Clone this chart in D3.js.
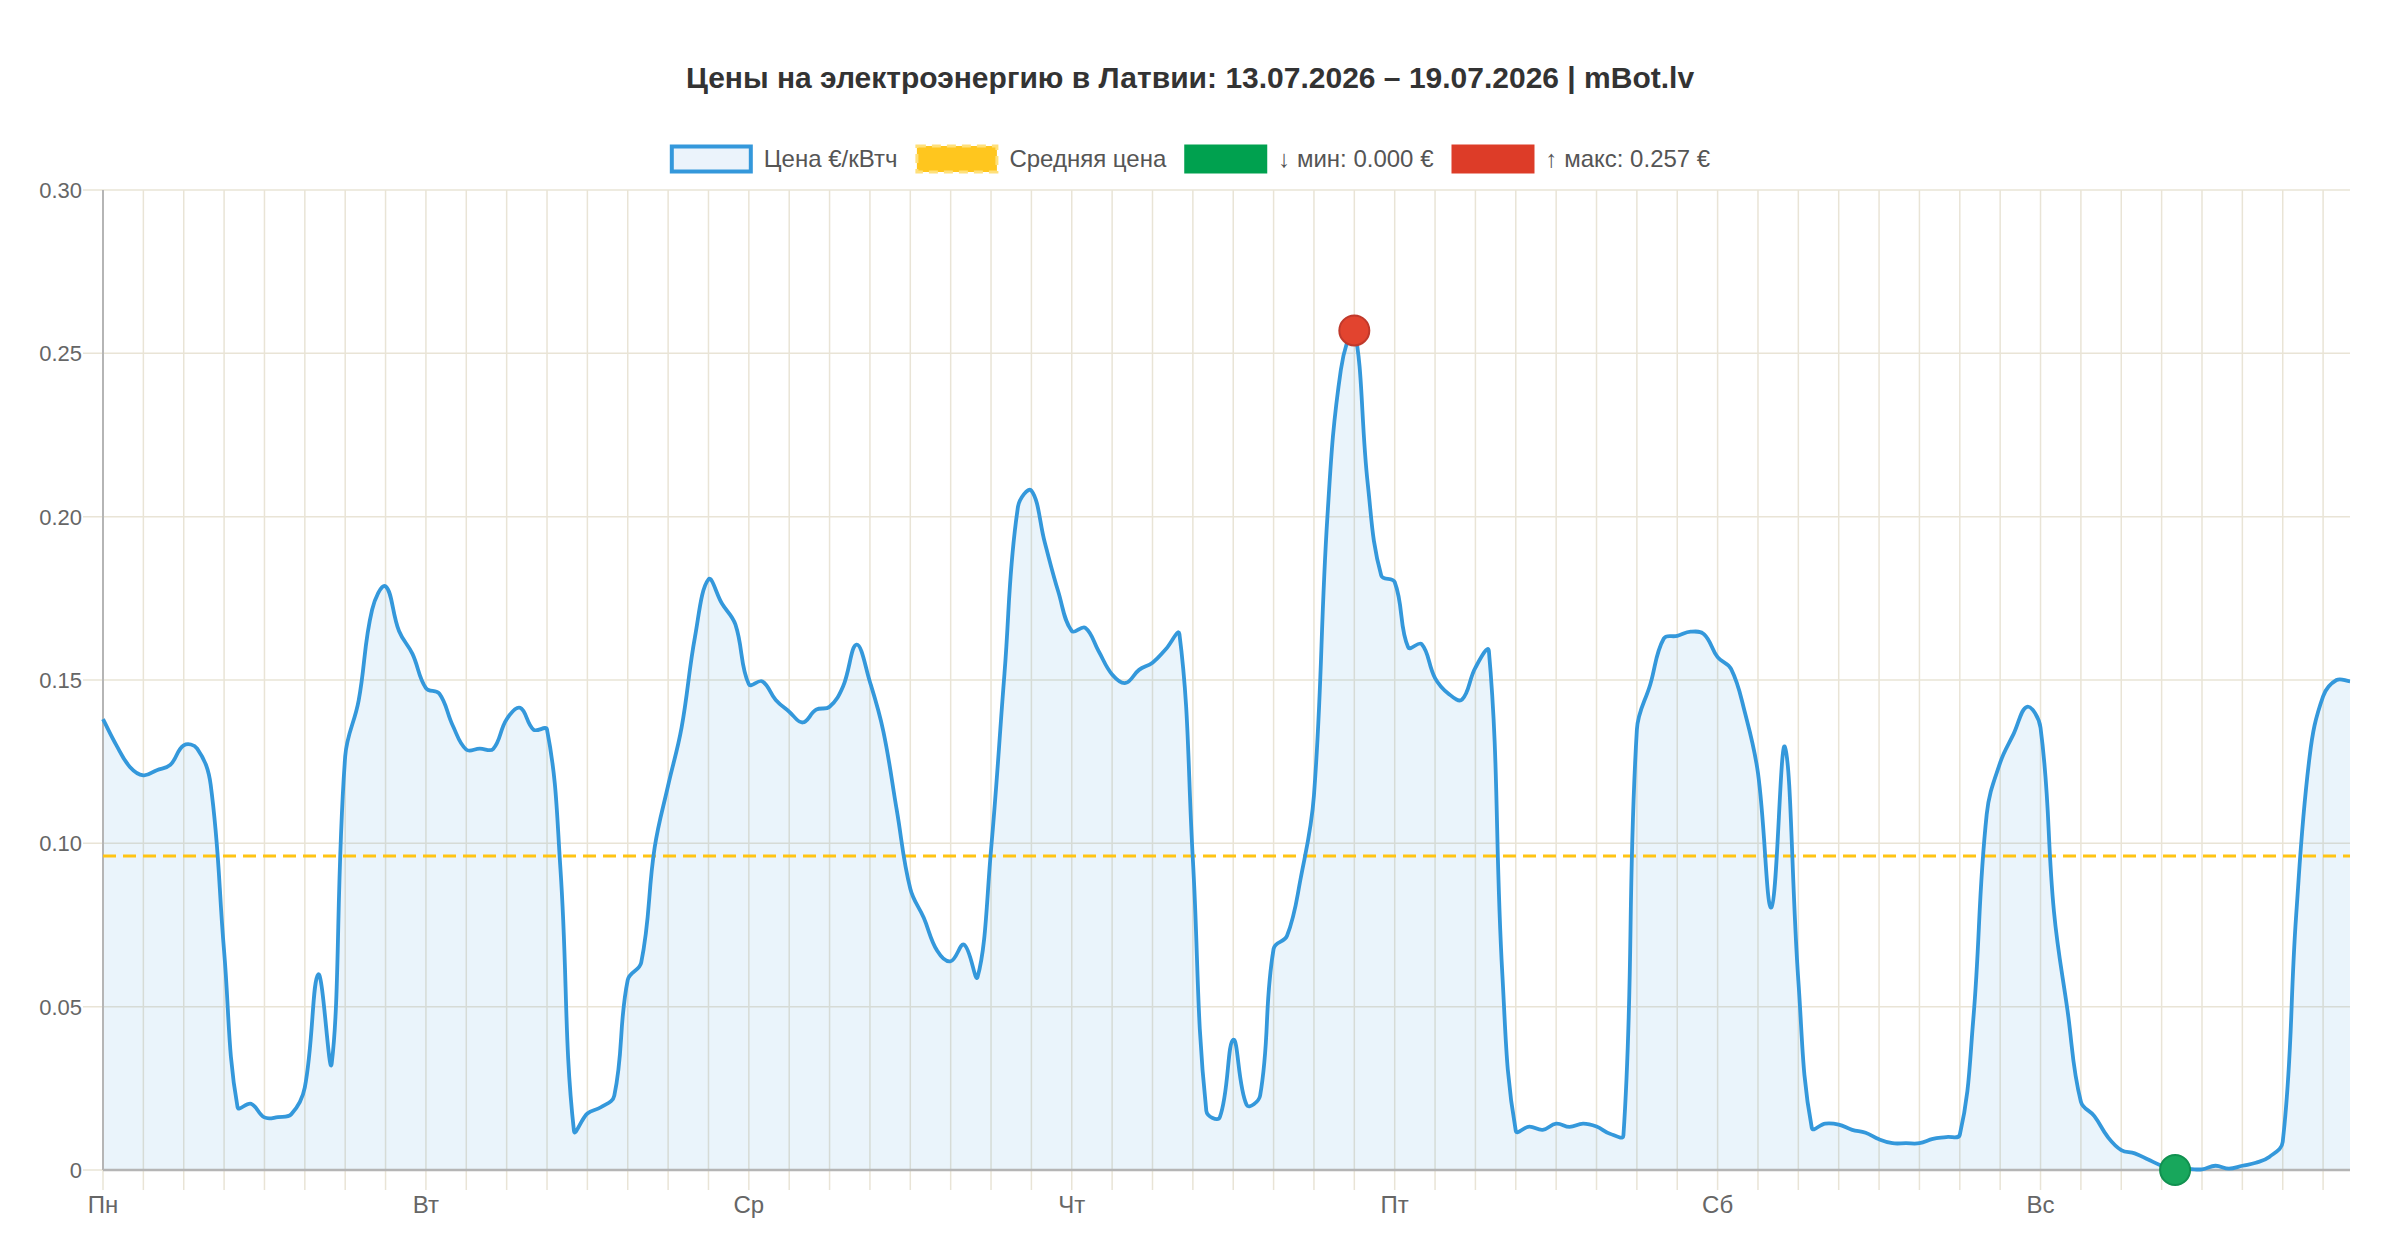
<!DOCTYPE html>
<html lang="ru">
<head>
<meta charset="utf-8">
<title>mBot.lv</title>
<script src="https://cdn.jsdelivr.net/npm/d3@7"></script>
<style>
	body{margin:0;background:#fff;}
	svg{display:block;font-family:"Liberation Sans",Arial,Helvetica,sans-serif;}
</style>
</head>
<body>
<div id="idPrices"></div>
<script>
// hourly prices, EUR/kWh, one array per day
var aDays=["Пн","Вт","Ср","Чт","Пт","Сб","Вс"];
var aMon=[0.138,0.130,0.1234,0.1208,0.1224,0.124,0.130,0.129,0.118,0.067,0.0192,0.0203,0.0161,0.0162,0.0171,0.0253,0.0599,0.0327,0.1266,0.1437,0.1715,0.1787,0.165,0.158];
var aTue=[0.1475,0.1458,0.136,0.1287,0.129,0.1289,0.138,0.1415,0.1348,0.1348,0.092,0.012,0.0173,0.0192,0.0228,0.0582,0.0635,0.0987,0.1177,0.1354,0.1633,0.1808,0.1734,0.167];
var aWed=[0.1487,0.1496,0.1439,0.1403,0.137,0.1409,0.1418,0.148,0.1608,0.1494,0.1342,0.110,0.0861,0.0772,0.0671,0.0639,0.069,0.0591,0.098,0.152,0.203,0.208,0.192,0.177];
var aThu=[0.165,0.166,0.1588,0.1517,0.1491,0.1531,0.1553,0.1595,0.1641,0.095,0.0181,0.0161,0.0399,0.0199,0.0228,0.0677,0.0717,0.089,0.1147,0.200,0.245,0.257,0.210,0.182];
var aFri=[0.180,0.160,0.161,0.1506,0.1458,0.144,0.1538,0.1589,0.060,0.012,0.0133,0.0123,0.0142,0.0132,0.0142,0.0133,0.0111,0.0106,0.1348,0.1487,0.1627,0.1635,0.1648,0.164];
var aSat=[0.157,0.1534,0.1405,0.1215,0.0804,0.1295,0.058,0.0129,0.0142,0.0139,0.0123,0.0114,0.0094,0.0082,0.0082,0.0082,0.0095,0.0101,0.0108,0.046,0.1089,0.1247,0.1335,0.1418];
var aSun=[0.1354,0.079,0.049,0.0209,0.0165,0.0101,0.0061,0.0051,0.0032,0.0013,0.000,0.0003,0.0002,0.0013,0.0004,0.0013,0.0022,0.004,0.0086,0.078,0.1266,0.145,0.150,0.1496];
var aYTicks=[0,0.05,0.10,0.15,0.20,0.25,0.30];

var sTitle="Цены на электроэнергию в Латвии: 13.07.2026 – 19.07.2026 | mBot.lv";
var sPriceLabel="Цена €/кВтч";
var sAvgLabel="Средняя цена";
var sMinLabel="↓ мин: ";
var sMaxLabel="↑ макс: ";

function DrawPriceChart()
{
	var iWidth=2400;
	var iHeight=1260;
	var iLeft=103;
	var iRight=2350;
	var iTop=190;
	var iBottom=1170;
	var iCenter=1190;
	var fTension=0.4;

	var aPrices=d3.merge([aMon,aTue,aWed,aThu,aFri,aSat,aSun]);
	var fAvg=d3.mean(aPrices);
	var iMin=d3.minIndex(aPrices);
	var iMax=d3.maxIndex(aPrices);

	var myCanvas=d3.select("#idPrices").append("svg")
		.attr("width",iWidth)
		.attr("height",iHeight);

	var xAxes=d3.scaleLinear().domain([0,aPrices.length-1]).range([iLeft,iRight]);
	var yAxes=d3.scaleLinear().domain([0,0.30]).range([iBottom,iTop]);

	// grid
	var myGrid=myCanvas.append("g").attr("stroke","#e9e4d6").attr("stroke-width",1.5);
	myGrid.selectAll(".vGrid")
		.data(d3.range(0,aPrices.length,3))
		.enter().append("line")
			.attr("x1",function(i){return xAxes(i);})
			.attr("x2",function(i){return xAxes(i);})
			.attr("y1",iTop)
			.attr("y2",iBottom+20);
	myGrid.selectAll(".hGrid")
		.data(aYTicks)
		.enter().append("line")
			.attr("x1",iLeft-20)
			.attr("x2",iRight)
			.attr("y1",function(v){return yAxes(v);})
			.attr("y2",function(v){return yAxes(v);});

	// smooth line like chart.js (tension 0.4), computed in pixel space
	var aPts=aPrices.map(function(v,i){return [xAxes(i),yAxes(v)];});
	function clamp(v,a,b){return Math.max(a,Math.min(b,v));}
	var aCtrl=aPts.map(function(p,i)
	{
		var pPrev=aPts[i-1]||p;
		var pNext=aPts[i+1]||p;
		var d01=Math.hypot(p[0]-pPrev[0],p[1]-pPrev[1]);
		var d12=Math.hypot(pNext[0]-p[0],pNext[1]-p[1]);
		var s01=d01/(d01+d12)||0;
		var s12=d12/(d01+d12)||0;
		var fa=fTension*s01, fb=fTension*s12;
		return {
			prev:[clamp(p[0]-fa*(pNext[0]-pPrev[0]),iLeft,iRight),clamp(p[1]-fa*(pNext[1]-pPrev[1]),iTop,iBottom)],
			next:[clamp(p[0]+fb*(pNext[0]-pPrev[0]),iLeft,iRight),clamp(p[1]+fb*(pNext[1]-pPrev[1]),iTop,iBottom)]
		};
	});
	var myPath=d3.path();
	myPath.moveTo(aPts[0][0],aPts[0][1]);
	for(var i=1;i<aPts.length;i++)
	{
		myPath.bezierCurveTo(aCtrl[i-1].next[0],aCtrl[i-1].next[1],aCtrl[i].prev[0],aCtrl[i].prev[1],aPts[i][0],aPts[i][1]);
	}
	var sLine=myPath.toString();
	var sArea=sLine+"L"+xAxes(aPrices.length-1)+","+yAxes(0)+"L"+xAxes(0)+","+yAxes(0)+"Z";

	myCanvas.append("path")
		.attr("d",sArea)
		.attr("fill","rgba(52,152,219,0.1)");

	// axes lines
	myCanvas.append("line")
		.attr("x1",iLeft).attr("x2",iLeft)
		.attr("y1",iTop).attr("y2",iBottom)
		.attr("stroke","#b5b5b5").attr("stroke-width",2);
	myCanvas.append("line")
		.attr("x1",iLeft).attr("x2",iRight)
		.attr("y1",yAxes(0)).attr("y2",yAxes(0))
		.attr("stroke","#b5b5b5").attr("stroke-width",2.5);

	// average
	myCanvas.append("line")
		.attr("x1",iLeft).attr("x2",iRight)
		.attr("y1",yAxes(fAvg)).attr("y2",yAxes(fAvg))
		.attr("stroke","#ffc414").attr("stroke-width",3)
		.attr("stroke-dasharray","13,7");

	myCanvas.append("path")
		.attr("d",sLine)
		.attr("fill","none")
		.attr("stroke","#3498db")
		.attr("stroke-width",3.8)
		.attr("stroke-linejoin","round");

	// min / max markers
	myCanvas.append("circle")
		.attr("cx",xAxes(iMax)).attr("cy",yAxes(aPrices[iMax]))
		.attr("r",15)
		.attr("fill","#e2442f").attr("stroke","#c0392b").attr("stroke-width",2);
	myCanvas.append("circle")
		.attr("cx",xAxes(iMin)).attr("cy",yAxes(aPrices[iMin]))
		.attr("r",15)
		.attr("fill","#18a75c").attr("stroke","#119150").attr("stroke-width",2);

	// tick labels
	myCanvas.selectAll(".yLabel")
		.data(aYTicks)
		.enter().append("text")
			.attr("class","yLabel")
			.attr("x",iLeft-21)
			.attr("y",function(v){return yAxes(v);})
			.attr("dy","0.36em")
			.attr("text-anchor","end")
			.attr("font-size",22)
			.attr("fill","#666")
			.text(function(v){return v==0?"0":v.toFixed(2);});

	myCanvas.selectAll(".xLabel")
		.data(aDays)
		.enter().append("text")
			.attr("class","xLabel")
			.attr("x",function(d,k){return xAxes(k*24);})
			.attr("y",iBottom+43)
			.attr("text-anchor","middle")
			.attr("font-size",24)
			.attr("fill","#666")
			.text(function(d){return d;});

	// title
	myCanvas.append("text")
		.attr("x",iCenter)
		.attr("y",88)
		.attr("text-anchor","middle")
		.attr("font-size",30)
		.attr("font-weight","bold")
		.attr("fill","#333")
		.text(sTitle);

	// legend
	var aLegend=[
		{sText:sPriceLabel,sFill:"#ebf3fb",sStroke:"#3498db",iStroke:4,sDash:null},
		{sText:sAvgLabel,sFill:"#ffc61e",sStroke:"#ffe07a",iStroke:3,sDash:"9,6"},
		{sText:sMinLabel+aPrices[iMin].toFixed(3)+" €",sFill:"#00a14f",sStroke:"none",iStroke:0,sDash:null},
		{sText:sMaxLabel+aPrices[iMax].toFixed(3)+" €",sFill:"#dd3c28",sStroke:"none",iStroke:0,sDash:null}
	];
	var iBoxW=83, iBoxH=29, iBoxGap=11, iItemGap=18, iLegendY=159;
	var myLegend=myCanvas.append("g");
	var myItems=myLegend.selectAll("g").data(aLegend).enter().append("g");
	myItems.append("text")
		.attr("font-size",24)
		.attr("fill","#555")
		.attr("dy","0.35em")
		.text(function(d){return d.sText;});
	var iX=0;
	myItems.each(function(d)
	{
		d.iX=iX;
		iX+=iBoxW+iBoxGap+this.querySelector("text").getComputedTextLength()+iItemGap;
	});
	var iStart=iCenter-(iX-iItemGap)/2;
	myItems.attr("transform",function(d){return "translate("+(iStart+d.iX)+","+iLegendY+")";});
	myItems.insert("rect","text")
		.attr("x",function(d){return d.iStroke/2;})
		.attr("y",function(d){return -iBoxH/2+d.iStroke/2;})
		.attr("width",function(d){return iBoxW-d.iStroke;})
		.attr("height",function(d){return iBoxH-d.iStroke;})
		.attr("fill",function(d){return d.sFill;})
		.attr("stroke",function(d){return d.sStroke;})
		.attr("stroke-width",function(d){return d.iStroke;})
		.attr("stroke-dasharray",function(d){return d.sDash;});
	myItems.select("text").attr("x",iBoxW+iBoxGap);
}

DrawPriceChart();
</script>
</body>
</html>
